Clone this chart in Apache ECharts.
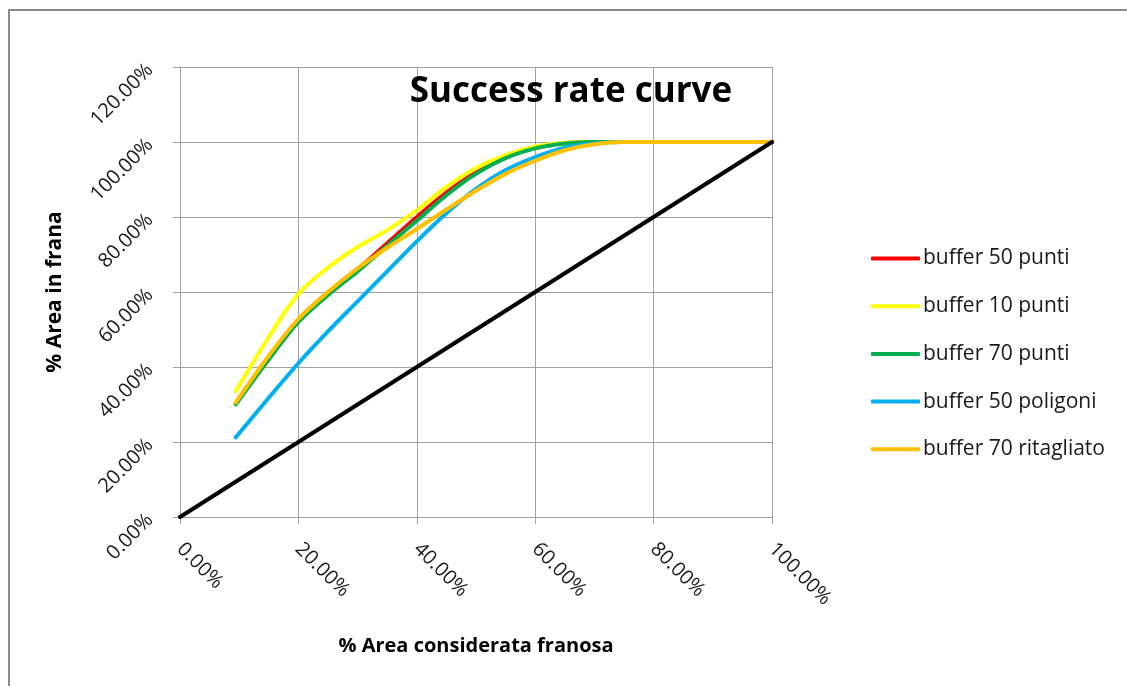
<!DOCTYPE html>
<html>
<head>
<meta charset="utf-8">
<title>Success rate curve</title>
<script src="https://cdn.jsdelivr.net/npm/echarts@6/dist/echarts.min.js"></script>
<style>
  html, body { margin: 0; padding: 0; background: #ffffff; }
  #chart { width: 1127px; height: 686px; }
</style>
</head>
<body>
<div id="chart"></div>
<script>
// % area considered as landslide-prone (x, in percent)
const areaConsiderata = [9.4, 15, 20, 25, 30, 35, 40, 45, 50, 55, 60, 65, 70, 75, 80, 90, 100];

// % landslide area captured (y, in percent) for each buffer model
const buffer50Punti      = [30.3, 42.5, 52.5, 59.5, 66.0, 73.0, 80.0, 86.5, 92.0, 96.0, 98.5, 99.7, 100, 100, 100, 100, 100];
const buffer10Punti      = [33.5, 48.0, 59.5, 66.5, 72.0, 76.5, 81.8, 88.0, 93.0, 96.5, 98.8, 99.8, 100, 100, 100, 100, 100];
const buffer70Punti      = [30.0, 42.0, 52.0, 59.2, 65.5, 72.3, 79.0, 85.8, 91.5, 95.7, 98.3, 99.6, 100, 100, 100, 100, 100];
const buffer50Poligoni   = [21.2, 31.8, 41.0, 49.5, 57.5, 65.5, 73.5, 81.0, 87.5, 92.5, 96.0, 98.5, 99.6, 100, 100, 100, 100];
const buffer70Ritagliato = [30.5, 43.0, 52.8, 60.0, 66.3, 71.8, 76.8, 82.0, 87.0, 91.5, 95.0, 97.8, 99.4, 100, 100, 100, 100];

// Random-prediction reference diagonal
const diagonalX = [0, 100];
const diagonalY = [0, 100];

const seriesNames = ['buffer 50 punti', 'buffer 10 punti', 'buffer 70 punti', 'buffer 50 poligoni', 'buffer 70 ritagliato'];
const seriesColors = ['#ff0000', '#ffff00', '#00b050', '#00b0f0', '#ffc000'];
const seriesValues = [buffer50Punti, buffer10Punti, buffer70Punti, buffer50Poligoni, buffer70Ritagliato];

const FONT = '"Open Sans", "DejaVu Sans", sans-serif';
const pct = v => v.toFixed(2) + '%';
const pairs = (xs, ys) => xs.map((x, i) => [x, ys[i]]);

const chart = echarts.init(document.getElementById('chart'), null, { renderer: 'canvas' });

const curves = seriesNames.map((name, i) => ({
  name: name,
  type: 'line',
  data: pairs(areaConsiderata, seriesValues[i]),
  smooth: 0.3,
  showSymbol: false,
  symbol: 'none',
  lineStyle: { color: seriesColors[i], width: 4, cap: 'round', join: 'round' },
  itemStyle: { color: seriesColors[i] },
  emphasis: { disabled: true },
  z: 3 + i
}));

curves.push({
  name: 'diagonale',
  type: 'line',
  data: pairs(diagonalX, diagonalY),
  showSymbol: false,
  symbol: 'none',
  lineStyle: { color: '#000000', width: 4, cap: 'round' },
  emphasis: { disabled: true },
  z: 10
});

chart.setOption({
  animation: false,
  backgroundColor: '#ffffff',
  title: {
    text: 'Success rate curve',
    left: 566,
    top: 66,
    textAlign: 'center',
    textStyle: { fontFamily: FONT, fontWeight: 'bold', fontSize: 35, color: '#000000', lineHeight: 42 }
  },
  legend: {
    orient: 'vertical',
    left: 871,
    top: 248,
    padding: 0,
    data: seriesNames,
    icon: 'roundRect',
    itemWidth: 49,
    itemHeight: 4,
    itemGap: 26.7,
    selectedMode: false,
    textStyle: { fontFamily: FONT, fontSize: 21, color: '#1a1a1a', lineHeight: 20, padding: [0, 0, 0, -2] }
  },
  grid: { left: 180, right: 355, top: 67, bottom: 169, containLabel: false },
  xAxis: {
    type: 'value',
    min: 0,
    max: 100,
    interval: 20,
    name: '% Area considerata franosa',
    nameLocation: 'middle',
    nameGap: 119,
    nameTextStyle: { fontFamily: FONT, fontWeight: 'bold', fontSize: 20, color: '#000000' },
    axisLine: { show: true, lineStyle: { color: '#a0a0a0', width: 1 } },
    axisTick: { show: true, length: 7, lineStyle: { color: '#a0a0a0' } },
    axisLabel: {
      formatter: pct,
      rotate: -45,
      margin: 29,
      fontFamily: FONT,
      fontSize: 20,
      color: '#1a1a1a'
    },
    splitLine: { show: true, lineStyle: { color: '#a0a0a0', width: 1 } }
  },
  yAxis: {
    type: 'value',
    min: 0,
    max: 120,
    interval: 20,
    name: '% Area in frana',
    nameLocation: 'middle',
    nameGap: 114,
    nameRotate: 90,
    nameTextStyle: { fontFamily: FONT, fontWeight: 'bold', fontSize: 21, color: '#000000' },
    axisLine: { show: true, lineStyle: { color: '#a0a0a0', width: 1 } },
    axisTick: { show: true, length: 7, lineStyle: { color: '#a0a0a0' } },
    axisLabel: {
      formatter: pct,
      rotate: 45,
      margin: 30,
      fontFamily: FONT,
      fontSize: 20,
      color: '#1a1a1a'
    },
    splitLine: { show: true, lineStyle: { color: '#a0a0a0', width: 1 } }
  },
  graphic: [{
    type: 'rect',
    silent: true,
    shape: { x: 9, y: 10, width: 1300, height: 900 },
    style: { fill: null, stroke: '#8a8a8a', lineWidth: 2 },
    z: 100
  }],
  series: curves
});
</script>
</body>
</html>
